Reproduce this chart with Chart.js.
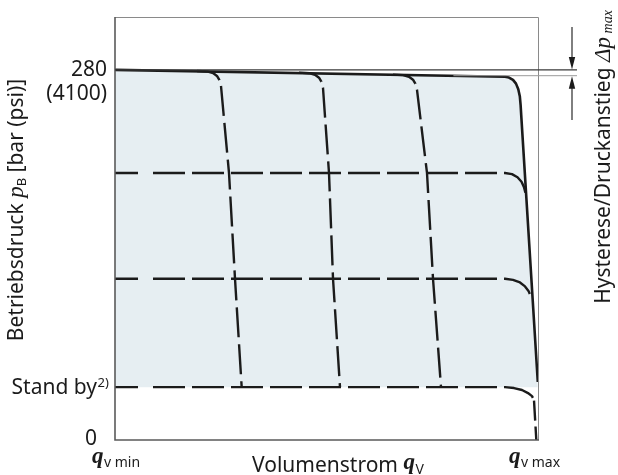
<!DOCTYPE html>
<html><head><meta charset="utf-8">
<script src="https://cdn.jsdelivr.net/npm/chart.js@4.4.1/dist/chart.umd.min.js"></script>
<style>html,body{margin:0;padding:0;background:#fff;}#wrap{width:618px;height:475px;}</style>
</head><body><div id="wrap"><canvas id="c" width="618" height="475"></canvas></div>
<script>
// ---- data (x: flow as % of range qv min..qv max, y: pressure in bar) ----
const xRange = [0, 100];
const yRange = [0, 320];
const yTickValues = [0, 40, 280];
const yTickLabels = ['0', 'Stand by', '280'];
const yTickSub = ['', '2)', '(4100)'];
const hysteresis = [280, 275.6];

const mainX = [0, 92.2, 93.14, 94.09, 94.80, 95.34, 95.70, 95.89, 96.03, 99.95];
const mainY = [280, 274.8, 274.2, 272.4, 269.6, 265.4, 260.1, 253.3, 245.9, 43.9];

const lvl202X = [0, 92.2, 93.85, 95.15, 96.1, 96.69, 97.04];
const lvl202Y = [202, 202, 201.1, 198.8, 195.4, 191.3, 186.9];
const lvl122X = [0, 92.2, 94.09, 95.74, 96.93, 97.75, 98.35];
const lvl122Y = [122, 122, 121.1, 119.2, 116.2, 112.8, 108.2];
const standbyX = [0, 92.2, 94.33, 96.22, 97.64, 98.58, 99.05, 99.6];
const standbyY = [40, 40, 39.3, 37.8, 35.5, 33.2, 30.3, 0];

const curve1X = [19.39, 21.75, 23.17, 24.11, 24.70, 25.06, 26.95, 28.37, 29.95];
const curve1Y = [279.1, 278.8, 277.6, 275.4, 272.3, 267.8, 202, 122, 40];
const curve2X = [43.50, 45.86, 47.28, 48.23, 48.82, 49.17, 50.59, 51.54, 53.19];
const curve2Y = [277.9, 277.5, 276.3, 274.1, 271.0, 266.5, 202, 122, 40];
const curve3X = [65.72, 68.09, 69.50, 70.45, 71.04, 71.39, 73.76, 75.18, 77.07];
const curve3Y = [276.4, 276.0, 274.8, 272.6, 269.5, 265.0, 202, 122, 40];

// ---- styles ----
const INK = '#1b1b1b';
const FILL = '#e6eef2';
const SANS = '"Noto Sans", sans-serif';
const SERIF = '"Liberation Serif", "DejaVu Serif", serif';
function rep(a, n) { let r = []; for (let i = 0; i < n; i++) r = r.concat(a); return r; }
const hDash = [23, 15].concat(rep([32, 7], 10), [40, 2000]);
const sbDash = [23, 15].concat(rep([32, 7], 9), [32, 3, 20, 6, 20, 100]);
const vDash = [26, 6].concat(rep([30, 7], 12));

const pts = (xs, ys) => xs.map((x, i) => ({ x: x, y: ys[i] }));
const dashed = (xs, ys, dash) => ({
  data: pts(xs, ys), borderColor: INK, borderWidth: 2.4, borderDash: dash,
  pointRadius: 0, tension: 0, fill: false, clip: false, borderCapStyle: 'butt', borderJoinStyle: 'round', order: 1
});

const overlay = {
  id: 'overlay',
  beforeDatasetsDraw(chart) {
    const { ctx, chartArea: a } = chart;
    ctx.save();
    ctx.fillStyle = '#fff';
    ctx.restore();
  },
  afterDatasetsDraw(chart) {
    const { ctx, chartArea: a, scales } = chart;
    const xs = v => scales.x.getPixelForValue(v), ys = v => scales.y.getPixelForValue(v);
    ctx.save();
    // frame
    ctx.lineCap = 'butt';
    ctx.strokeStyle = '#8a8a8a'; ctx.lineWidth = 1;
    ctx.beginPath(); ctx.moveTo(a.left, a.top + 0.5); ctx.lineTo(a.right + 0.5, a.top + 0.5); ctx.lineTo(a.right + 0.5, a.bottom); ctx.stroke();
    ctx.strokeStyle = '#5a5a5a'; ctx.lineWidth = 1.6;
    ctx.beginPath(); ctx.moveTo(a.left, a.top); ctx.lineTo(a.left, a.bottom); ctx.lineTo(a.right + 1, a.bottom); ctx.stroke();
    // hysteresis lines
    const hx = 577;
    ctx.strokeStyle = '#3a3a3a'; ctx.lineWidth = 1.2;
    ctx.beginPath(); ctx.moveTo(a.left, ys(hysteresis[0])); ctx.lineTo(hx, ys(hysteresis[0])); ctx.stroke();
    ctx.strokeStyle = '#9a9a9a'; ctx.lineWidth = 1;
    ctx.beginPath(); ctx.moveTo(xs(80), ys(hysteresis[1])); ctx.lineTo(hx, ys(hysteresis[1])); ctx.stroke();
    // arrows
    const ax = 572, y1 = ys(hysteresis[0]), y2 = ys(hysteresis[1]);
    ctx.strokeStyle = '#2a2a2a'; ctx.fillStyle = '#1b1b1b'; ctx.lineWidth = 1.2;
    ctx.beginPath(); ctx.moveTo(ax, 27); ctx.lineTo(ax, y1 - 8); ctx.stroke();
    ctx.beginPath(); ctx.moveTo(ax, y1 - 0.5); ctx.lineTo(ax - 3.2, y1 - 13); ctx.lineTo(ax + 3.2, y1 - 13); ctx.closePath(); ctx.fill();
    ctx.beginPath(); ctx.moveTo(ax, 120); ctx.lineTo(ax, y2 + 8); ctx.stroke();
    ctx.beginPath(); ctx.moveTo(ax, y2 + 0.5); ctx.lineTo(ax - 3.2, y2 + 13); ctx.lineTo(ax + 3.2, y2 + 13); ctx.closePath(); ctx.fill();

    // texts
    ctx.fillStyle = INK;
    ctx.textBaseline = 'alphabetic';
    const F = '21px ' + SANS;
    ctx.font = F; ctx.textAlign = 'right';
    // 280 / (4100)
    ctx.fillText(yTickLabels[2], 107, ys(yTickValues[2]) + 6.5);
    ctx.fillText(yTickSub[2], 107, ys(yTickValues[2]) + 30.5);
    // Stand by 2)
    ctx.fillText(yTickLabels[1], 97, ys(yTickValues[1]) + 7);
    ctx.font = '13px ' + SANS; ctx.textAlign = 'left';
    ctx.fillText(yTickSub[1], 97.5, ys(yTickValues[1]) - 0.5);
    // 0
    ctx.font = F; ctx.textAlign = 'right';
    ctx.fillText(yTickLabels[0], 97, ys(yTickValues[0]) + 5);

    // bottom labels
    function qLabel(x, base, sub, subBase) {
      ctx.textAlign = 'left';
      ctx.font = 'italic bold 23px ' + SERIF;
      ctx.fillText('q', x, base);
      const w = ctx.measureText('q').width;
      ctx.font = '14px ' + SANS;
      ctx.fillText(sub, x + w + 0.5, subBase);
    }
    qLabel(xs(xRange[0]) - 23, 463, 'v min', 467);
    qLabel(xs(xRange[1]) - 29, 463, 'v max', 467);
    ctx.font = F; ctx.textAlign = 'left';
    const vt = 'Volumenstrom ';
    ctx.fillText(vt, 252, 472);
    const vw = ctx.measureText(vt).width;
    ctx.font = 'italic bold 23px ' + SERIF;
    ctx.fillText('q', 252 + vw, 469);
    const qw = ctx.measureText('q').width;
    ctx.font = '14px ' + SANS;
    ctx.fillText('V', 252 + vw + qw + 0.5, 474);

    // left title (rotated)
    function rotTitle(cx, cy, parts) {
      ctx.save();
      ctx.translate(cx, cy); ctx.rotate(-Math.PI / 2);
      let total = 0;
      parts.forEach(p => { ctx.font = p.f; p.w = ctx.measureText(p.t).width; total += p.w; });
      let x = -total / 2;
      ctx.textAlign = 'left';
      parts.forEach(p => { ctx.font = p.f; ctx.fillText(p.t, x, p.dy || 0); x += p.w; });
      ctx.restore();
    }
    rotTitle(22.5, 210, [
      { t: 'Betriebsdruck ', f: F },
      { t: 'p', f: 'italic 23px ' + SERIF },
      { t: 'B', f: '13px ' + SANS, dy: 3 },
      { t: ' [bar (psi)]', f: F }
    ]);
    rotTitle(610, 157, [
      { t: 'Hysterese/Druckanstieg ', f: F },
      { t: 'Δp', f: 'italic 23px ' + SERIF },
      { t: ' max', f: 'italic 14px ' + SERIF, dy: 2 }
    ]);
    ctx.restore();
  }
};

new Chart(document.getElementById('c'), {
  type: 'line',
  data: {
    datasets: [
      { data: pts(mainX, mainY), borderColor: INK, borderWidth: 2.6, backgroundColor: FILL,
        fill: { value: yTickValues[1] }, pointRadius: 0, tension: 0, clip: false,
        borderJoinStyle: 'round', order: 10 },
      dashed(lvl202X, lvl202Y, hDash),
      dashed(lvl122X, lvl122Y, hDash),
      dashed(standbyX, standbyY, sbDash),
      dashed(curve1X, curve1Y, vDash),
      dashed(curve2X, curve2Y, vDash),
      dashed(curve3X, curve3Y, vDash)
    ]
  },
  options: {
    responsive: false, devicePixelRatio: 1, animation: false,
    layout: { padding: { left: 115, right: 80, top: 17, bottom: 35 } },
    plugins: { legend: { display: false }, tooltip: { enabled: false } },
    scales: {
      x: { type: 'linear', min: xRange[0], max: xRange[1], display: false },
      y: { type: 'linear', min: yRange[0], max: yRange[1], display: false }
    }
  },
  plugins: [overlay]
});
</script></body></html>
